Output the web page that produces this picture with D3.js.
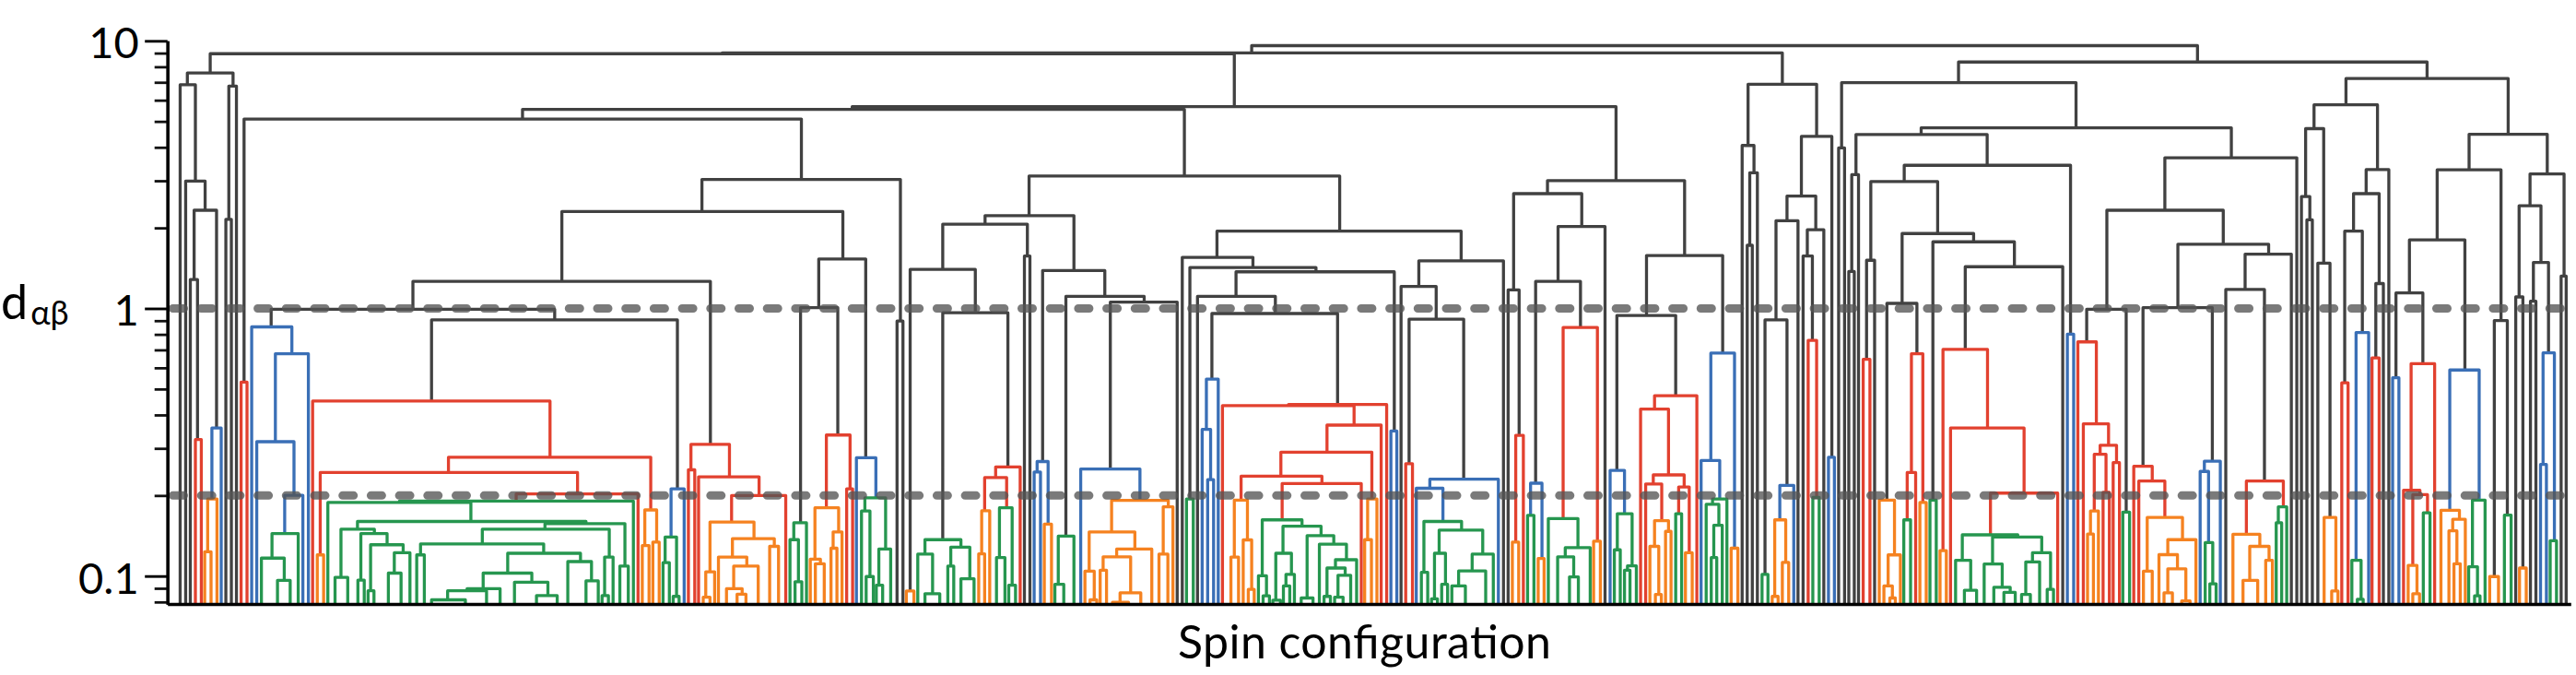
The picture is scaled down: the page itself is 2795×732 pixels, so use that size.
<!DOCTYPE html>
<html><head><meta charset="utf-8">
<script src="https://cdn.jsdelivr.net/npm/d3@7"></script>
<style>html,body{margin:0;padding:0;background:#fff}svg{display:block}text{font-family:Lato,"Open Sans",sans-serif;fill:#000}</style>
</head><body><svg id="c" width="2795" height="732"></svg>
<script>
// Each link: [left configuration rank, right configuration rank, log-distance (millidecades of d), colour key]
const linksA=[[497,2917,952,'k'],[1707,4212,955,'k'],[2958,5193,982,'k'],[2014,3819,754,'k'],[1235,2799,744,'k'],[577,1894,708,'k'],[1659,2128,482,'k'],[1328,1992,362,'k'],[976,1679,101,'k'],[641,1311,-3,'k'],[1020,1601,-43,'k'],[2432,3166,495,'k'],[2876,3453,289,'k'],[443,551,880,'k'],[426,462,836,'k'],[541,559,831,'k'],[439,485,476,'k'],[459,512,367,'k'],[450,467,108,'k'],[462,476,-490,'r'],[501,523,-447,'b'],[491,513,-712,'o'],[484,499,-909,'o'],[534,547,333,'k'],[570,584,-275,'r'],[595,690,-69,'b'],[651,729,-169,'b'],[607,695,-498,'b'],[673,716,-698,'b'],[643,705,-841,'g'],[618,672,-933,'g'],[656,686,-1016,'g'],[739,1300,-346,'r'],[1060,1538,-556,'r'],[757,1365,-613,'r'],[750,765,-921,'o'],[1220,1508,-693,'r'],[775,1113,-725,'g'],[944,1497,-720,'g'],[845,1385,-796,'g'],[806,885,-825,'g'],[792,822,-1005,'g'],[853,915,-841,'g'],[846,861,-1015,'g'],[876,953,-883,'g'],[870,884,-1055,'g'],[932,969,-913,'g'],[918,948,-989,'g'],[1288,1477,-804,'g'],[1140,1440,-825,'g'],[994,1285,-880,'g'],[985,1003,-921,'g'],[1200,1372,-915,'g'],[1142,1257,-989,'g'],[1104,1182,-1047,'g'],[1058,1150,-1055,'g'],[1020,1100,-1089,'g'],[1216,1295,-1023,'g'],[1268,1317,-1073,'g'],[1342,1398,-946,'g'],[1385,1414,-1018,'g'],[1429,1449,-929,'g'],[1423,1438,-1073,'g'],[1465,1485,-963,'g'],[1524,1552,-753,'o'],[1518,1534,-886,'o'],[1543,1558,-873,'o']];
const linksB=[[62,93,-674,'b'],[48,75,-854,'g'],[43,58,-950,'g'],[67,81,-1076,'g'],[109,200,-508,'r'],[103,118,-603,'r'],[127,270,-629,'r'],[205,333,-699,'r'],[154,258,-798,'o'],[144,165,-984,'o'],[138,154,-1079,'o'],[207,306,-860,'o'],[174,241,-929,'o'],[210,268,-963,'o'],[193,230,-1047,'o'],[218,239,-1068,'o'],[295,316,-889,'o'],[411,522,185,'k'],[368,456,3,'k'],[352,382,-801,'g'],[343,363,-864,'g'],[355,371,-1021,'g'],[429,485,-473,'r'],[402,458,-745,'o'],[391,415,-937,'o'],[403,424,-954,'o'],[445,466,-835,'o'],[440,454,-896,'o'],[477,491,-674,'r'],[500,546,-558,'b'],[520,569,-708,'g'],[512,532,-757,'g'],[523,540,-1002,'g'],[553,581,-899,'g'],[547,562,-1034,'g'],[596,610,-47,'k'],[804,1014,347,'k'],[704,904,315,'k'],[627,781,146,'k'],[618,636,-1056,'o'],[704,858,-16,'k'],[662,747,-864,'g'],[645,680,-918,'g'],[662,697,-1066,'g'],[723,768,-892,'g'],[716,730,-963,'g'],[747,778,-1010,'g'],[829,887,-592,'r'],[803,855,-632,'r'],[796,815,-756,'o'],[789,803,-917,'o'],[838,868,-745,'g'],[831,851,-931,'g'],[860,876,-1034,'g'],[897,910,196,'k'],[940,1087,142,'k'],[927,953,-572,'b'],[920,935,-611,'b'],[944,961,-806,'o'],[995,1180,45,'k'],[977,1014,-851,'g'],[969,990,-1031,'g'],[1100,1258,24,'k'],[1030,1170,-600,'b'],[1103,1237,-717,'o'],[1050,1158,-835,'o'],[1040,1062,-982,'o'],[1052,1068,-1089,'o'],[1115,1198,-899,'o'],[1083,1148,-928,'o'],[1076,1091,-978,'o'],[1123,1172,-1063,'o'],[1105,1143,-1098,'o'],[1225,1248,-741,'o'],[1215,1236,-918,'o'],[1270,1437,191,'k'],[1288,1586,153,'k'],[1280,1296,-712,'g'],[1397,1771,137,'k'],[1306,1490,45,'k'],[1340,1637,-19,'k'],[1327,1355,-264,'b'],[1317,1337,-452,'b'],[1330,1344,-640,'b'],[1521,1753,-359,'r'],[1365,1676,-363,'r'],[1612,1740,-436,'r'],[1503,1718,-537,'r'],[1409,1600,-627,'r'],[1393,1424,-716,'o'],[1385,1403,-929,'o'],[1414,1434,-865,'o'],[1426,1440,-1050,'o'],[1506,1693,-654,'r'],[1459,1553,-790,'g'],[1450,1469,-999,'g'],[1461,1476,-1074,'g'],[1508,1598,-814,'g'],[1491,1528,-915,'g'],[1515,1535,-994,'g'],[1509,1524,-1037,'g'],[1484,1502,-1090,'g']];
const linksC=[[40,103,-849,'g'],[26,54,-1082,'g'],[69,133,-881,'g'],[107,157,-939,'g'],[87,130,-970,'g'],[80,95,-1076,'g'],[113,143,-997,'g'],[105,125,-1079,'g'],[183,205,-712,'o'],[176,192,-864,'o'],[238,252,-458,'b'],[304,504,178,'k'],[262,345,82,'k'],[281,410,-40,'k'],[273,289,-580,'r'],[330,492,-638,'b'],[298,361,-672,'b'],[316,405,-796,'g'],[310,325,-986,'g'],[352,455,-828,'g'],[341,367,-915,'g'],[334,348,-1085,'g'],[358,372,-1031,'g'],[430,480,-918,'g'],[398,462,-981,'g'],[382,414,-1037,'g'],[608,932,478,'k'],[528,689,429,'k'],[515,541,69,'k'],[533,551,-474,'r'],[525,540,-873,'o'],[633,744,306,'k'],[580,686,101,'k'],[568,595,-653,'b'],[561,576,-773,'g'],[586,600,-934,'o'],[645,726,-71,'r'],[610,680,-785,'g'],[650,709,-894,'g'],[632,670,-928,'g'],[660,681,-1003,'g'],[717,733,-870,'o'],[842,1022,198,'k'],[772,911,-26,'k'],[756,790,-605,'b'],[773,808,-767,'g'],[766,780,-902,'g'],[797,818,-962,'g'],[790,803,-978,'g'],[861,961,-326,'r'],[828,894,-376,'r'],[858,931,-622,'r'],[840,878,-656,'r'],[861,894,-793,'o'],[850,871,-889,'o'],[863,877,-1069,'o'],[887,900,-833,'o'],[918,943,-667,'r'],[911,925,-767,'g'],[934,950,-913,'o'],[994,1050,-167,'b'],[971,1015,-568,'b'],[998,1032,-712,'g'],[983,1013,-732,'g'],[1001,1021,-810,'g'],[995,1008,-931,'g'],[1042,1058,-896,'o'],[1082,1244,838,'k'],[1068,1096,609,'k'],[1086,1104,507,'k'],[1080,1092,236,'k'],[1208,1280,643,'k'],[1174,1242,420,'k'],[1148,1200,328,'k'],[1122,1174,-43,'k'],[1115,1129,-994,'g'],[1157,1190,-661,'b'],[1145,1171,-790,'o'],[1139,1153,-1076,'o'],[1163,1178,-949,'o'],[1222,1261,294,'k'],[1212,1234,196,'k'],[1224,1244,-119,'r'],[1235,1250,-706,'g'],[1272,1286,-556,'b'],[1303,1857,844,'k'],[1296,1310,600,'k'],[1491,2224,675,'k'],[1337,1647,650,'k'],[1327,1343,500,'k'],[1320,1333,138,'k'],[1451,1844,535,'k'],[1372,1530,474,'k'],[1362,1381,180,'k'],[1354,1370,-190,'r'],[1446,1615,280,'k'],[1410,1481,19,'k'],[1392,1428,-716,'o'],[1413,1442,-921,'o'],[1403,1423,-1037,'o'],[1417,1430,-1082,'o'],[1468,1495,-169,'r'],[1458,1478,-613,'r'],[1450,1466,-790,'g'],[1488,1503,-725,'o']];
const linksD=[[99,1214,921,'k'],[38,232,249,'k'],[31,46,-716,'g'],[115,347,156,'k'],[62,168,-153,'r'],[55,70,-905,'o'],[80,255,-447,'r'],[175,335,-690,'r'],[108,240,-846,'g'],[92,128,-941,'g'],[113,142,-1053,'g'],[180,297,-854,'g'],[160,203,-955,'g'],[183,222,-1042,'g'],[207,234,-1061,'g'],[275,318,-913,'g'],[259,292,-947,'g'],[249,270,-1069,'g'],[310,325,-1050,'g'],[358,373,-96,'b'],[590,904,563,'k'],[452,729,367,'k'],[404,498,-3,'k'],[383,427,-125,'r'],[396,456,-431,'r'],[436,475,-511,'r'],[422,450,-545,'r'],[413,432,-757,'o'],[406,420,-843,'o'],[443,458,-687,'r'],[467,482,-576,'r'],[490,506,-761,'g'],[621,837,240,'k'],[538,703,3,'k'],[516,560,-590,'r'],[528,590,-645,'r'],[548,632,-781,'o'],[539,560,-982,'o'],[597,664,-864,'o'],[576,620,-920,'o'],[597,640,-973,'o'],[588,608,-1063,'o'],[630,650,-1093,'o'],[684,722,-571,'b'],[674,694,-609,'b'],[686,704,-875,'g'],[697,712,-1029,'g'],[781,891,203,'k'],[735,827,71,'k'],[784,872,-645,'r'],[752,816,-844,'o'],[792,838,-889,'o'],[776,811,-1016,'o'],[830,846,-941,'o'],[860,880,-741,'g'],[855,868,-801,'g'],[1021,1407,859,'k'],[945,1096,761,'k'],[925,968,672,'k'],[915,935,418,'k'],[928,941,331,'k'],[954,983,169,'k'],[969,997,-781,'o'],[987,1002,-1056,'o'],[1069,1123,519,'k'],[1039,1100,429,'k'],[1018,1060,289,'k'],[1011,1026,-278,'r'],[1045,1075,-90,'b'],[1035,1057,-941,'g'],[1048,1062,-1087,'g'],[1092,1110,93,'k'],[1083,1100,-185,'r'],[1314,1500,651,'k'],[1238,1390,518,'k'],[1172,1304,256,'k'],[1140,1204,58,'k'],[1132,1147,-259,'b'],[1176,1232,-206,'r'],[1158,1197,-679,'r'],[1180,1215,-696,'r'],[1169,1190,-960,'o'],[1180,1196,-1066,'o'],[1205,1221,-764,'g'],[1268,1338,-230,'b'],[1247,1291,-754,'o'],[1275,1305,-788,'o'],[1266,1285,-831,'o'],[1278,1293,-954,'o'],[1322,1352,-716,'g'],[1313,1334,-965,'g'],[1327,1340,-1074,'g'],[1374,1405,-45,'k'],[1363,1384,-1002,'o'],[1398,1414,-772,'g'],[1459,1540,503,'k'],[1433,1485,384,'k'],[1425,1442,43,'k'],[1434,1450,-970,'o'],[1467,1503,172,'k'],[1460,1473,27,'k'],[1490,1517,-166,'b'],[1484,1498,-583,'b'],[1507,1522,-868,'g'],[1533,1545,121,'k']];
// where each group of links starts along the configuration axis, and its rank unit
const groupStarts=[0,1524,3049,4530];
const groupUnits=[1,1,1,0.993];
const groups=[linksA,linksB,linksC,linksD];
const rankDomain=[396,6075];
const distDomain=[0.0785,10];
const majorTicks=[0.1,1,10];
const minorTicks=[0.08,0.09,0.2,0.3,0.4,0.5,0.6,0.7,0.8,0.9,2,3,4,5,6,7,8,9];
const thresholds=[1,0.2];
const palette={k:'#414141',r:'#e2412f',b:'#3a6fb6',g:'#26964f',o:'#f58220'};
const xLabel='Spin configuration';

const svg=d3.select('#c');
const x=d3.scaleLinear().domain(rankDomain).range([181.7,2789.3]);
const y=d3.scaleLog().domain(distDomain).range([655.2,44.3]);

const links=groups.flatMap((g,i)=>g.map(l=>({x0:l[0]*groupUnits[i]+groupStarts[i],x1:l[1]*groupUnits[i]+groupStarts[i],d:Math.pow(10,l[2]/1000),c:l[3]})));
// a leg falls until it meets the first lower link whose span contains it, otherwise the axis
function legEnd(lx,lk){
  let best=distDomain[0];
  for(const o of links){ if(o!==lk&&o.d<lk.d&&o.d>best&&o.x0<=lx&&lx<=o.x1) best=o.d; }
  return best;
}
svg.append('g').attr('fill','none').attr('stroke-width',3.3).attr('stroke-linejoin','round')
 .selectAll('path').data(links.slice().sort((a,b)=>b.d-a.d)).join('path')
 .attr('stroke',d=>palette[d.c])
 .attr('d',d=>{const p=d3.path();p.moveTo(x(d.x0),y(legEnd(d.x0,d)));p.lineTo(x(d.x0),y(d.d));p.lineTo(x(d.x1),y(d.d));p.lineTo(x(d.x1),y(legEnd(d.x1,d)));return p.toString();});

// threshold lines
svg.append('g').selectAll('line').data(thresholds).join('line')
 .attr('x1',187.5).attr('x2',x(rankDomain[1])).attr('y1',d=>y(d)).attr('y2',d=>y(d))
 .attr('stroke','#555').attr('stroke-opacity',0.78).attr('stroke-width',9).attr('stroke-linecap','round').attr('stroke-dasharray','12 18.7');

// axes
const minorAxis=d3.axisLeft(y).tickValues(minorTicks).tickSize(14).tickFormat('').tickSizeOuter(0);
const majorAxis=d3.axisLeft(y).tickValues(majorTicks).tickSize(24.5).tickFormat(d=>String(d)).tickSizeOuter(0);
const gMin=svg.append('g').attr('transform','translate(181.7,0)').call(minorAxis);
const gMaj=svg.append('g').attr('transform','translate(181.7,0)').call(majorAxis);
gMin.selectAll('line').attr('stroke','#111').attr('stroke-width',2.8);
gMaj.selectAll('line').attr('stroke','#000').attr('stroke-width',2.9);
gMin.select('.domain').attr('stroke','#000').attr('stroke-width',3.2);
gMaj.select('.domain').attr('stroke','#000').attr('stroke-width',3.2);
gMaj.selectAll('text').attr('x',-31).attr('dy','18.3px').style('font-size','47px').style('font-family','Lato,sans-serif');
const xAxis=d3.axisBottom(x).tickValues([]).tickSizeOuter(0);
const gx=svg.append('g').attr('transform','translate(0,655)').call(xAxis);
gx.select('.domain').attr('stroke','#000').attr('stroke-width',3.4);

svg.append('text').attr('x',1480.5).attr('y',714).attr('text-anchor','middle').attr('textLength',405).attr('lengthAdjust','spacing').style('font-size','50px').text(xLabel);
const yl=svg.append('text').attr('x',1).attr('y',346).style('font-size','52px');
yl.append('tspan').text('d');
yl.append('tspan').attr('dy',6).attr('dx',3).style('font-size','36px').text('αβ');
</script></body></html>
